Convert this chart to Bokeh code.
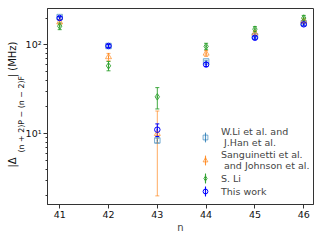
import math
from bokeh.plotting import figure
from bokeh.models import (ColumnDataSource, Whisker, TeeHead, Legend, LegendItem,
                          FixedTicker, Title)
from bokeh.embed import file_html
from bokeh.resources import INLINE

# ---- data ----
n_vals = [41, 42, 43, 44, 45, 46]
wli_vals = [205, 97, 8.4, 65, 125, 175]
wli_err = [3, 2, 0.5, 2, 3, 4]
sang_vals = [180, 73, 10, 80, 135, 185]
sang_err = [10, 7, 8, 6, 8, 10]
sli_vals = [162, 58, 26, 96, 150, 200]
sli_err = [14, 7, 7, 8, 10, 14]
this_vals = [200, 97, 11.1, 60, 120, 170]
this_err = [8, 4, 1.8, 3, 5, 7]

x_ticks = [41, 42, 43, 44, 45, 46]
y_major = [10, 100]
y_labels = {10: "10\u00b9", 100: "10\u00b2"}

series = [
    ("W.Li et al. and\n J.Han et al.", wli_vals, wli_err, "#1f77b4", 0.6, "square", 5.5),
    ("Sanguinetti et al.\n and Johnson et al.", sang_vals, sang_err, "#ff7f0e", 0.65, "triangle", 6),
    ("S. Li", sli_vals, sli_err, "#2ca02c", 0.9, "diamond", 6.5),
    ("This work", this_vals, this_err, "#0000ff", 1.0, "circle", 5.5),
]

FONT = "DejaVu Sans"

p = figure(width=321, height=241, y_axis_type="log",
           x_range=(40.75, 46.2), y_range=(1.6, 256),
           output_backend="svg", toolbar_location=None,
           min_border_left=47, min_border_right=8, min_border_top=8,
           min_border_bottom=37)
p.grid.visible = False
p.outline_line_color = "#333333"
p.outline_line_width = 1
p.background_fill_color = "white"

for ax in (p.xaxis[0], p.yaxis[0]):
    ax.axis_line_color = "#333333"
    ax.major_tick_line_color = "#333333"
    ax.minor_tick_line_color = "#333333"
    ax.major_label_text_font = FONT
    ax.major_label_text_font_size = "9.5px"
    ax.major_label_text_color = "#111111"
    ax.major_tick_out = 4
    ax.major_tick_in = 0
    ax.minor_tick_out = 2
    ax.minor_tick_in = 0
    ax.major_label_standoff = 2

p.xaxis.ticker = FixedTicker(ticks=x_ticks, minor_ticks=[])
p.xaxis.axis_label = "n"
p.xaxis.axis_label_text_font = FONT
p.xaxis.axis_label_text_font_size = "10px"
p.xaxis.axis_label_text_font_style = "normal"
p.xaxis.axis_label_standoff = 1
p.xaxis.major_label_standoff = 2

minor = [m * d for d in (1, 10, 100) for m in range(2, 10) if m * d < 256]
p.yaxis.ticker = FixedTicker(ticks=y_major, minor_ticks=minor)
p.yaxis.major_label_overrides = y_labels

items = []
for label, vals, err, color, alpha, marker, size in series:
    src = ColumnDataSource(dict(
        n=n_vals, v=vals,
        up=[v + e for v, e in zip(vals, err)],
        lo=[v - e for v, e in zip(vals, err)]))
    w = Whisker(source=src, base="n", upper="up", lower="lo", dimension="height",
                line_color=color, line_alpha=alpha, line_width=1,
                upper_head=TeeHead(size=4, line_color=color, line_alpha=alpha, line_width=1),
                lower_head=TeeHead(size=4, line_color=color, line_alpha=alpha, line_width=1))
    p.add_layout(w)
    # thin vertical ellipse lying on the error bar: draws the bar in the legend swatch
    bar = p.ellipse("n", "v", source=src, width=0.05, height=2,
                    width_units="screen", height_units="screen",
                    fill_color=color, fill_alpha=alpha, line_color=color,
                    line_alpha=alpha, line_width=1)
    r = p.scatter("n", "v", source=src, marker=marker, size=size,
                  fill_color=None, line_color=color, line_alpha=alpha, line_width=1)
    items.append(LegendItem(label=label, renderers=[bar, r]))

leg = Legend(items=items, location=(149, 5), border_line_alpha=0,
             background_fill_alpha=0, label_text_font=FONT,
             label_text_font_size="9.5px", label_text_line_height=1.05,
             glyph_width=14, glyph_height=12, label_height=10,
             spacing=1, padding=2, label_standoff=9, margin=0)
p.add_layout(leg, "center")

# y axis label: subscript column next to the axis, main text column overlapping it
sub = Title(text="(n + 2)P \u2212 (n \u2212 2)F", align="left", offset=52,
            standoff=-6, text_font=FONT, text_font_size="7.9px",
            text_font_style="normal", text_color="#111111")
main = Title(text="|\u0394" + "\u2003" * 8 + "| (MHz)", align="left", offset=37,
             standoff=0, text_font=FONT,
             text_font_size="10px", text_font_style="normal", text_color="#111111")
p.add_layout(sub, "left")
p.add_layout(main, "left")

open("out.html", "w").write(file_html(p, INLINE))
